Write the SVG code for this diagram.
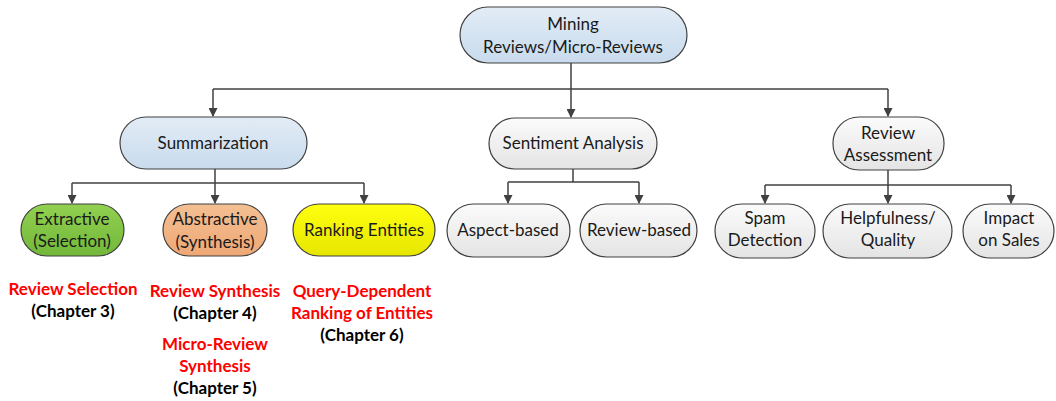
<svg xmlns="http://www.w3.org/2000/svg" width="1056" height="401" viewBox="0 0 1056 401">
  <style>
    .node { stroke: #404040; stroke-width: 1.2; }
    .lbl { font-family: Lato, "Liberation Sans", sans-serif; font-size: 17px; fill: #1a1a1a; text-anchor: middle; }
    .red { font-family: Lato, "Liberation Sans", sans-serif; font-size: 17px; font-weight: bold; fill: #ff0000; text-anchor: middle; }
    .chap { font-family: Lato, "Liberation Sans", sans-serif; font-size: 17px; font-weight: bold; fill: #000; text-anchor: middle; }
    .conn { fill: none; stroke: #404040; stroke-width: 1.5; }
  </style>
  <defs>
    <linearGradient id="blue" x1="0" y1="0" x2="0" y2="1">
      <stop offset="0" stop-color="#e2ecf6"/>
      <stop offset="1" stop-color="#c8dbed"/>
    </linearGradient>
    <linearGradient id="grey" x1="0" y1="0" x2="0" y2="1">
      <stop offset="0" stop-color="#fbfbfb"/>
      <stop offset="1" stop-color="#e4e4e4"/>
    </linearGradient>
    <linearGradient id="green" x1="0" y1="0" x2="0" y2="1">
      <stop offset="0" stop-color="#92d050"/>
      <stop offset="1" stop-color="#72b83a"/>
    </linearGradient>
    <linearGradient id="orange" x1="0" y1="0" x2="0" y2="1">
      <stop offset="0" stop-color="#f4bf93"/>
      <stop offset="1" stop-color="#eea875"/>
    </linearGradient>
    <linearGradient id="yellow" x1="0" y1="0" x2="0" y2="1">
      <stop offset="0" stop-color="#ffff10"/>
      <stop offset="1" stop-color="#e6e600"/>
    </linearGradient>
    <marker id="arrow" markerWidth="9" markerHeight="9" refX="8" refY="4.5" orient="auto" markerUnits="userSpaceOnUse">
      <path d="M0,0 L9,4.5 L0,9 Z" fill="#404040"/>
    </marker>
  </defs>

  <!-- connectors -->
  <g id="connectors">
    <path class="conn" d="M571,63 V89"/>
    <path class="conn" d="M213,89 H888"/>
    <path class="conn" d="M213,89 V116" marker-end="url(#arrow)"/>
    <path class="conn" d="M571,89 V117" marker-end="url(#arrow)"/>
    <path class="conn" d="M888,89 V116" marker-end="url(#arrow)"/>

    <path class="conn" d="M215,169 V183"/>
    <path class="conn" d="M72,183 H364"/>
    <path class="conn" d="M72,183 V203" marker-end="url(#arrow)"/>
    <path class="conn" d="M215,183 V203" marker-end="url(#arrow)"/>
    <path class="conn" d="M364,183 V203" marker-end="url(#arrow)"/>

    <path class="conn" d="M573,169 V182"/>
    <path class="conn" d="M508,182 H639"/>
    <path class="conn" d="M508,182 V203" marker-end="url(#arrow)"/>
    <path class="conn" d="M639,182 V203" marker-end="url(#arrow)"/>

    <path class="conn" d="M888,170 V185"/>
    <path class="conn" d="M765,185 H1011"/>
    <path class="conn" d="M765,185 V203" marker-end="url(#arrow)"/>
    <path class="conn" d="M888,185 V203" marker-end="url(#arrow)"/>
    <path class="conn" d="M1011,185 V203" marker-end="url(#arrow)"/>
  </g>

  <!-- nodes -->
  <g id="root">
    <rect class="node" x="460" y="7" width="227" height="56" rx="28" fill="url(#blue)"/>
    <text class="lbl" x="573" y="30">Mining</text>
    <text class="lbl" x="573" y="53">Reviews/Micro-Reviews</text>
  </g>

  <g id="summarization">
    <rect class="node" x="120" y="117" width="187" height="52" rx="26" fill="url(#blue)"/>
    <text class="lbl" x="213" y="149">Summarization</text>
  </g>

  <g id="sentiment">
    <rect class="node" x="489" y="118" width="168" height="51" rx="25.5" fill="url(#grey)"/>
    <text class="lbl" x="573" y="149">Sentiment Analysis</text>
  </g>

  <g id="assessment">
    <rect class="node" x="833" y="117" width="111" height="53" rx="26" fill="url(#grey)"/>
    <text class="lbl" x="888" y="139">Review</text>
    <text class="lbl" x="888" y="161">Assessment</text>
  </g>

  <g id="extractive">
    <rect class="node" x="21" y="204" width="103" height="52" rx="26" fill="url(#green)"/>
    <text class="lbl" x="72" y="225">Extractive</text>
    <text class="lbl" x="72" y="247">(Selection)</text>
  </g>

  <g id="abstractive">
    <rect class="node" x="163" y="204" width="104" height="52" rx="26" fill="url(#orange)"/>
    <text class="lbl" x="215" y="225">Abstractive</text>
    <text class="lbl" x="215" y="248">(Synthesis)</text>
  </g>

  <g id="ranking">
    <rect class="node" x="293" y="204" width="142" height="52" rx="26" fill="url(#yellow)"/>
    <text class="lbl" x="364" y="236">Ranking Entities</text>
  </g>

  <g id="aspect">
    <rect class="node" x="447" y="204" width="123" height="53" rx="26.5" fill="url(#grey)"/>
    <text class="lbl" x="508" y="236">Aspect-based</text>
  </g>

  <g id="reviewbased">
    <rect class="node" x="580" y="204" width="117" height="53" rx="26.5" fill="url(#grey)"/>
    <text class="lbl" x="639" y="236">Review-based</text>
  </g>

  <g id="spam">
    <rect class="node" x="715" y="204" width="100" height="54" rx="27" fill="url(#grey)"/>
    <text class="lbl" x="765" y="224">Spam</text>
    <text class="lbl" x="765" y="246">Detection</text>
  </g>

  <g id="helpfulness">
    <rect class="node" x="823" y="204" width="129" height="54" rx="27" fill="url(#grey)"/>
    <text class="lbl" x="888" y="224">Helpfulness/</text>
    <text class="lbl" x="888" y="246">Quality</text>
  </g>

  <g id="impact">
    <rect class="node" x="963" y="204" width="91" height="54" rx="27" fill="url(#grey)"/>
    <text class="lbl" x="1009" y="224">Impact</text>
    <text class="lbl" x="1009" y="246">on Sales</text>
  </g>

  <!-- chapter notes -->
  <g id="notes">
    <text class="red" x="73" y="295">Review Selection</text>
    <text class="chap" x="73" y="317">(Chapter 3)</text>

    <text class="red" x="215" y="297">Review Synthesis</text>
    <text class="chap" x="215" y="319">(Chapter 4)</text>
    <text class="red" x="215" y="350">Micro-Review</text>
    <text class="red" x="215" y="372">Synthesis</text>
    <text class="chap" x="215" y="394">(Chapter 5)</text>

    <text class="red" x="362" y="297">Query-Dependent</text>
    <text class="red" x="362" y="319">Ranking of Entities</text>
    <text class="chap" x="362" y="341">(Chapter 6)</text>
  </g>
</svg>
